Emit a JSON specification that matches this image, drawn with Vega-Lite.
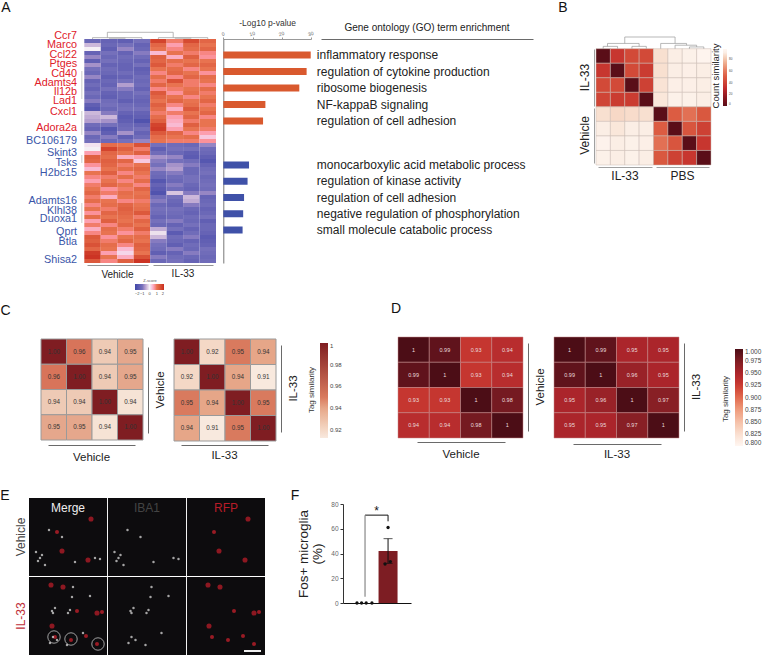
{"$schema":"https://vega.github.io/schema/vega-lite/v6.json","width":763,"height":655,"autosize":{"type":"fit","contains":"padding"},"padding":0,"background":"white","config":{"view":{"stroke":null},"font":"Liberation Sans","text":{"font":"Liberation Sans"},"axis":{"labelFont":"Liberation Sans","titleFont":"Liberation Sans","grid":false},"legend":{"labelFont":"Liberation Sans","titleFont":"Liberation Sans"}},"resolve":{"scale":{"x":"independent","y":"independent","color":"independent","size":"independent"},"axis":{"x":"independent","y":"independent"},"legend":{"color":"independent","size":"independent"}},"layer":[
{"data":{"values":[{"r":0,"s":1,"z":-1.2},{"r":0,"s":2,"z":-1.3},{"r":0,"s":3,"z":-1.4},{"r":0,"s":4,"z":-1.0},{"r":0,"s":5,"z":1.7},{"r":0,"s":6,"z":0.9},{"r":0,"s":7,"z":1.6},{"r":0,"s":8,"z":1.2},{"r":1,"s":1,"z":-0.4},{"r":1,"s":2,"z":-1.2},{"r":1,"s":3,"z":-1.0},{"r":1,"s":4,"z":-1.3},{"r":1,"s":5,"z":1.2},{"r":1,"s":6,"z":0.6},{"r":1,"s":7,"z":1.2},{"r":1,"s":8,"z":1.0},{"r":2,"s":1,"z":0.0},{"r":2,"s":2,"z":-1.4},{"r":2,"s":3,"z":-0.8},{"r":2,"s":4,"z":-1.2},{"r":2,"s":5,"z":1.0},{"r":2,"s":6,"z":0.8},{"r":2,"s":7,"z":1.1},{"r":2,"s":8,"z":1.2},{"r":3,"s":1,"z":-1.3},{"r":3,"s":2,"z":-1.0},{"r":3,"s":3,"z":-1.3},{"r":3,"s":4,"z":-0.9},{"r":3,"s":5,"z":0.4},{"r":3,"s":6,"z":1.0},{"r":3,"s":7,"z":0.9},{"r":3,"s":8,"z":0.8},{"r":4,"s":1,"z":-0.8},{"r":4,"s":2,"z":-1.2},{"r":4,"s":3,"z":-1.1},{"r":4,"s":4,"z":-1.1},{"r":4,"s":5,"z":1.3},{"r":4,"s":6,"z":0.5},{"r":4,"s":7,"z":1.3},{"r":4,"s":8,"z":0.7},{"r":5,"s":1,"z":-1.4},{"r":5,"s":2,"z":-1.0},{"r":5,"s":3,"z":-1.2},{"r":5,"s":4,"z":-1.3},{"r":5,"s":5,"z":1.2},{"r":5,"s":6,"z":1.1},{"r":5,"s":7,"z":1.0},{"r":5,"s":8,"z":1.0},{"r":6,"s":1,"z":-0.7},{"r":6,"s":2,"z":-1.3},{"r":6,"s":3,"z":-1.3},{"r":6,"s":4,"z":-1.0},{"r":6,"s":5,"z":1.4},{"r":6,"s":6,"z":0.9},{"r":6,"s":7,"z":1.2},{"r":6,"s":8,"z":1.2},{"r":7,"s":1,"z":-1.0},{"r":7,"s":2,"z":-1.1},{"r":7,"s":3,"z":-1.3},{"r":7,"s":4,"z":-1.4},{"r":7,"s":5,"z":1.0},{"r":7,"s":6,"z":1.1},{"r":7,"s":7,"z":0.8},{"r":7,"s":8,"z":1.0},{"r":8,"s":1,"z":-1.2},{"r":8,"s":2,"z":-1.2},{"r":8,"s":3,"z":-1.1},{"r":8,"s":4,"z":-1.3},{"r":8,"s":5,"z":0.8},{"r":8,"s":6,"z":1.2},{"r":8,"s":7,"z":1.0},{"r":8,"s":8,"z":0.7},{"r":9,"s":1,"z":-0.8},{"r":9,"s":2,"z":-1.4},{"r":9,"s":3,"z":-1.3},{"r":9,"s":4,"z":-1.1},{"r":9,"s":5,"z":1.1},{"r":9,"s":6,"z":0.8},{"r":9,"s":7,"z":1.2},{"r":9,"s":8,"z":1.1},{"r":10,"s":1,"z":-1.3},{"r":10,"s":2,"z":-1.2},{"r":10,"s":3,"z":-1.0},{"r":10,"s":4,"z":-1.2},{"r":10,"s":5,"z":0.9},{"r":10,"s":6,"z":1.5},{"r":10,"s":7,"z":0.9},{"r":10,"s":8,"z":1.0},{"r":11,"s":1,"z":-1.1},{"r":11,"s":2,"z":-1.3},{"r":11,"s":3,"z":-0.6},{"r":11,"s":4,"z":-1.1},{"r":11,"s":5,"z":1.2},{"r":11,"s":6,"z":1.0},{"r":11,"s":7,"z":0.9},{"r":11,"s":8,"z":0.8},{"r":12,"s":1,"z":-1.3},{"r":12,"s":2,"z":-1.0},{"r":12,"s":3,"z":-0.9},{"r":12,"s":4,"z":-1.3},{"r":12,"s":5,"z":0.8},{"r":12,"s":6,"z":0.9},{"r":12,"s":7,"z":1.0},{"r":12,"s":8,"z":1.1},{"r":13,"s":1,"z":-1.0},{"r":13,"s":2,"z":-1.3},{"r":13,"s":3,"z":-1.2},{"r":13,"s":4,"z":-1.0},{"r":13,"s":5,"z":1.4},{"r":13,"s":6,"z":0.7},{"r":13,"s":7,"z":1.1},{"r":13,"s":8,"z":0.9},{"r":14,"s":1,"z":-1.2},{"r":14,"s":2,"z":-1.4},{"r":14,"s":3,"z":-1.2},{"r":14,"s":4,"z":-1.2},{"r":14,"s":5,"z":1.2},{"r":14,"s":6,"z":1.0},{"r":14,"s":7,"z":0.8},{"r":14,"s":8,"z":1.0},{"r":15,"s":1,"z":-0.9},{"r":15,"s":2,"z":-1.1},{"r":15,"s":3,"z":-1.4},{"r":15,"s":4,"z":-1.3},{"r":15,"s":5,"z":1.0},{"r":15,"s":6,"z":1.2},{"r":15,"s":7,"z":1.0},{"r":15,"s":8,"z":1.2},{"r":16,"s":1,"z":-1.4},{"r":16,"s":2,"z":-1.0},{"r":16,"s":3,"z":-1.1},{"r":16,"s":4,"z":-1.2},{"r":16,"s":5,"z":1.3},{"r":16,"s":6,"z":0.8},{"r":16,"s":7,"z":1.1},{"r":16,"s":8,"z":0.9},{"r":17,"s":1,"z":-1.6},{"r":17,"s":2,"z":-1.2},{"r":17,"s":3,"z":-1.0},{"r":17,"s":4,"z":-1.0},{"r":17,"s":5,"z":1.1},{"r":17,"s":6,"z":0.5},{"r":17,"s":7,"z":1.4},{"r":17,"s":8,"z":1.0},{"r":18,"s":1,"z":-0.4},{"r":18,"s":2,"z":-0.9},{"r":18,"s":3,"z":-1.3},{"r":18,"s":4,"z":-1.3},{"r":18,"s":5,"z":0.9},{"r":18,"s":6,"z":0.9},{"r":18,"s":7,"z":1.0},{"r":18,"s":8,"z":1.2},{"r":19,"s":1,"z":-0.5},{"r":19,"s":2,"z":-0.4},{"r":19,"s":3,"z":-1.5},{"r":19,"s":4,"z":-1.4},{"r":19,"s":5,"z":1.1},{"r":19,"s":6,"z":0.6},{"r":19,"s":7,"z":1.2},{"r":19,"s":8,"z":0.8},{"r":20,"s":1,"z":-0.6},{"r":20,"s":2,"z":-0.7},{"r":20,"s":3,"z":-1.4},{"r":20,"s":4,"z":-1.7},{"r":20,"s":5,"z":1.3},{"r":20,"s":6,"z":0.5},{"r":20,"s":7,"z":0.9},{"r":20,"s":8,"z":1.0},{"r":21,"s":1,"z":-1.1},{"r":21,"s":2,"z":-1.0},{"r":21,"s":3,"z":-1.2},{"r":21,"s":4,"z":-1.3},{"r":21,"s":5,"z":1.7},{"r":21,"s":6,"z":0.4},{"r":21,"s":7,"z":1.3},{"r":21,"s":8,"z":1.0},{"r":22,"s":1,"z":-1.3},{"r":22,"s":2,"z":-1.6},{"r":22,"s":3,"z":-1.1},{"r":22,"s":4,"z":-1.0},{"r":22,"s":5,"z":1.8},{"r":22,"s":6,"z":0.6},{"r":22,"s":7,"z":1.0},{"r":22,"s":8,"z":0.9},{"r":23,"s":1,"z":-0.8},{"r":23,"s":2,"z":-1.4},{"r":23,"s":3,"z":-0.7},{"r":23,"s":4,"z":-1.3},{"r":23,"s":5,"z":1.4},{"r":23,"s":6,"z":1.2},{"r":23,"s":7,"z":0.8},{"r":23,"s":8,"z":0.6},{"r":24,"s":1,"z":-1.2},{"r":24,"s":2,"z":-0.9},{"r":24,"s":3,"z":-1.4},{"r":24,"s":4,"z":-1.1},{"r":24,"s":5,"z":1.1},{"r":24,"s":6,"z":1.0},{"r":24,"s":7,"z":1.1},{"r":24,"s":8,"z":0.3},{"r":25,"s":1,"z":-1.0},{"r":25,"s":2,"z":-1.2},{"r":25,"s":3,"z":-1.0},{"r":25,"s":4,"z":-0.8},{"r":25,"s":5,"z":1.0},{"r":25,"s":6,"z":0.9},{"r":25,"s":7,"z":0.9},{"r":25,"s":8,"z":0.7},{"r":26,"s":1,"z":0.1},{"r":26,"s":2,"z":1.1},{"r":26,"s":3,"z":1.0},{"r":26,"s":4,"z":1.5},{"r":26,"s":5,"z":-1.0},{"r":26,"s":6,"z":-1.1},{"r":26,"s":7,"z":-1.2},{"r":26,"s":8,"z":-0.8},{"r":27,"s":1,"z":0.0},{"r":27,"s":2,"z":1.7},{"r":27,"s":3,"z":1.3},{"r":27,"s":4,"z":0.9},{"r":27,"s":5,"z":-1.4},{"r":27,"s":6,"z":-1.0},{"r":27,"s":7,"z":-1.0},{"r":27,"s":8,"z":-1.1},{"r":28,"s":1,"z":0.6},{"r":28,"s":2,"z":1.2},{"r":28,"s":3,"z":1.0},{"r":28,"s":4,"z":1.3},{"r":28,"s":5,"z":-1.1},{"r":28,"s":6,"z":-1.2},{"r":28,"s":7,"z":-1.4},{"r":28,"s":8,"z":-1.2},{"r":29,"s":1,"z":1.3},{"r":29,"s":2,"z":1.1},{"r":29,"s":3,"z":0.5},{"r":29,"s":4,"z":0.6},{"r":29,"s":5,"z":-0.7},{"r":29,"s":6,"z":-0.8},{"r":29,"s":7,"z":-1.5},{"r":29,"s":8,"z":-1.4},{"r":30,"s":1,"z":1.2},{"r":30,"s":2,"z":1.3},{"r":30,"s":3,"z":1.2},{"r":30,"s":4,"z":0.3},{"r":30,"s":5,"z":-0.9},{"r":30,"s":6,"z":-1.0},{"r":30,"s":7,"z":-1.1},{"r":30,"s":8,"z":-1.6},{"r":31,"s":1,"z":0.7},{"r":31,"s":2,"z":1.2},{"r":31,"s":3,"z":0.9},{"r":31,"s":4,"z":1.0},{"r":31,"s":5,"z":-1.0},{"r":31,"s":6,"z":-0.7},{"r":31,"s":7,"z":-0.9},{"r":31,"s":8,"z":-1.3},{"r":32,"s":1,"z":0.4},{"r":32,"s":2,"z":1.0},{"r":32,"s":3,"z":1.1},{"r":32,"s":4,"z":1.2},{"r":32,"s":5,"z":-0.8},{"r":32,"s":6,"z":-0.6},{"r":32,"s":7,"z":-1.2},{"r":32,"s":8,"z":-1.1},{"r":33,"s":1,"z":1.0},{"r":33,"s":2,"z":1.3},{"r":33,"s":3,"z":0.8},{"r":33,"s":4,"z":1.0},{"r":33,"s":5,"z":-1.1},{"r":33,"s":6,"z":-0.9},{"r":33,"s":7,"z":-1.2},{"r":33,"s":8,"z":-1.0},{"r":34,"s":1,"z":0.8},{"r":34,"s":2,"z":0.9},{"r":34,"s":3,"z":1.1},{"r":34,"s":4,"z":0.9},{"r":34,"s":5,"z":-1.2},{"r":34,"s":6,"z":-1.1},{"r":34,"s":7,"z":-1.0},{"r":34,"s":8,"z":-1.2},{"r":35,"s":1,"z":0.6},{"r":35,"s":2,"z":1.0},{"r":35,"s":3,"z":0.8},{"r":35,"s":4,"z":1.1},{"r":35,"s":5,"z":-1.6},{"r":35,"s":6,"z":-1.2},{"r":35,"s":7,"z":-1.0},{"r":35,"s":8,"z":-1.1},{"r":36,"s":1,"z":0.9},{"r":36,"s":2,"z":1.2},{"r":36,"s":3,"z":1.0},{"r":36,"s":4,"z":0.8},{"r":36,"s":5,"z":-1.3},{"r":36,"s":6,"z":-0.9},{"r":36,"s":7,"z":-1.2},{"r":36,"s":8,"z":-1.0},{"r":37,"s":1,"z":1.0},{"r":37,"s":2,"z":0.7},{"r":37,"s":3,"z":0.9},{"r":37,"s":4,"z":1.2},{"r":37,"s":5,"z":-1.5},{"r":37,"s":6,"z":-1.1},{"r":37,"s":7,"z":-1.3},{"r":37,"s":8,"z":-1.1},{"r":38,"s":1,"z":1.2},{"r":38,"s":2,"z":0.9},{"r":38,"s":3,"z":1.1},{"r":38,"s":4,"z":1.0},{"r":38,"s":5,"z":-1.7},{"r":38,"s":6,"z":-0.3},{"r":38,"s":7,"z":-0.9},{"r":38,"s":8,"z":-0.8},{"r":39,"s":1,"z":0.9},{"r":39,"s":2,"z":0.5},{"r":39,"s":3,"z":1.0},{"r":39,"s":4,"z":1.1},{"r":39,"s":5,"z":-1.1},{"r":39,"s":6,"z":-1.0},{"r":39,"s":7,"z":-0.4},{"r":39,"s":8,"z":-1.3},{"r":40,"s":1,"z":1.1},{"r":40,"s":2,"z":1.0},{"r":40,"s":3,"z":0.8},{"r":40,"s":4,"z":0.9},{"r":40,"s":5,"z":-0.9},{"r":40,"s":6,"z":-1.2},{"r":40,"s":7,"z":-0.5},{"r":40,"s":8,"z":-1.2},{"r":41,"s":1,"z":0.8},{"r":41,"s":2,"z":1.1},{"r":41,"s":3,"z":1.2},{"r":41,"s":4,"z":1.0},{"r":41,"s":5,"z":-1.2},{"r":41,"s":6,"z":-1.3},{"r":41,"s":7,"z":-0.9},{"r":41,"s":8,"z":-1.1},{"r":42,"s":1,"z":1.0},{"r":42,"s":2,"z":0.9},{"r":42,"s":3,"z":1.3},{"r":42,"s":4,"z":1.1},{"r":42,"s":5,"z":-1.0},{"r":42,"s":6,"z":-1.0},{"r":42,"s":7,"z":-1.2},{"r":42,"s":8,"z":-1.3},{"r":43,"s":1,"z":0.7},{"r":43,"s":2,"z":1.2},{"r":43,"s":3,"z":1.2},{"r":43,"s":4,"z":1.4},{"r":43,"s":5,"z":-1.1},{"r":43,"s":6,"z":-1.1},{"r":43,"s":7,"z":-1.3},{"r":43,"s":8,"z":-1.2},{"r":44,"s":1,"z":1.1},{"r":44,"s":2,"z":1.0},{"r":44,"s":3,"z":1.1},{"r":44,"s":4,"z":0.9},{"r":44,"s":5,"z":-1.3},{"r":44,"s":6,"z":-1.2},{"r":44,"s":7,"z":-1.1},{"r":44,"s":8,"z":-1.0},{"r":45,"s":1,"z":0.6},{"r":45,"s":2,"z":1.3},{"r":45,"s":3,"z":1.0},{"r":45,"s":4,"z":1.2},{"r":45,"s":5,"z":-1.0},{"r":45,"s":6,"z":-0.9},{"r":45,"s":7,"z":-1.2},{"r":45,"s":8,"z":-1.4},{"r":46,"s":1,"z":0.9},{"r":46,"s":2,"z":0.8},{"r":46,"s":3,"z":1.2},{"r":46,"s":4,"z":1.0},{"r":46,"s":5,"z":-1.2},{"r":46,"s":6,"z":-1.3},{"r":46,"s":7,"z":-1.0},{"r":46,"s":8,"z":-1.2},{"r":47,"s":1,"z":0.5},{"r":47,"s":2,"z":1.1},{"r":47,"s":3,"z":0.9},{"r":47,"s":4,"z":1.3},{"r":47,"s":5,"z":-0.5},{"r":47,"s":6,"z":-1.0},{"r":47,"s":7,"z":-1.3},{"r":47,"s":8,"z":-1.2},{"r":48,"s":1,"z":0.8},{"r":48,"s":2,"z":1.0},{"r":48,"s":3,"z":0.7},{"r":48,"s":4,"z":0.9},{"r":48,"s":5,"z":-0.1},{"r":48,"s":6,"z":-1.5},{"r":48,"s":7,"z":-1.1},{"r":48,"s":8,"z":-1.3},{"r":49,"s":1,"z":1.4},{"r":49,"s":2,"z":0.7},{"r":49,"s":3,"z":1.0},{"r":49,"s":4,"z":1.1},{"r":49,"s":5,"z":-0.4},{"r":49,"s":6,"z":-1.1},{"r":49,"s":7,"z":-0.9},{"r":49,"s":8,"z":-1.5},{"r":50,"s":1,"z":1.3},{"r":50,"s":2,"z":0.9},{"r":50,"s":3,"z":1.2},{"r":50,"s":4,"z":1.0},{"r":50,"s":5,"z":-0.9},{"r":50,"s":6,"z":-1.2},{"r":50,"s":7,"z":-1.3},{"r":50,"s":8,"z":-1.4},{"r":51,"s":1,"z":1.5},{"r":51,"s":2,"z":1.1},{"r":51,"s":3,"z":0.8},{"r":51,"s":4,"z":1.3},{"r":51,"s":5,"z":-1.0},{"r":51,"s":6,"z":-1.4},{"r":51,"s":7,"z":-1.1},{"r":51,"s":8,"z":-1.3},{"r":52,"s":1,"z":1.2},{"r":52,"s":2,"z":1.0},{"r":52,"s":3,"z":0.4},{"r":52,"s":4,"z":1.2},{"r":52,"s":5,"z":-1.1},{"r":52,"s":6,"z":-0.9},{"r":52,"s":7,"z":-1.2},{"r":52,"s":8,"z":-1.0},{"r":53,"s":1,"z":1.8},{"r":53,"s":2,"z":0.6},{"r":53,"s":3,"z":0.2},{"r":53,"s":4,"z":1.0},{"r":53,"s":5,"z":-1.4},{"r":53,"s":6,"z":-1.3},{"r":53,"s":7,"z":-0.9},{"r":53,"s":8,"z":-1.1},{"r":54,"s":1,"z":1.9},{"r":54,"s":2,"z":1.0},{"r":54,"s":3,"z":0.5},{"r":54,"s":4,"z":1.5},{"r":54,"s":5,"z":-0.9},{"r":54,"s":6,"z":-1.1},{"r":54,"s":7,"z":-1.2},{"r":54,"s":8,"z":-1.2},{"r":55,"s":1,"z":1.4},{"r":55,"s":2,"z":0.8},{"r":55,"s":3,"z":1.3},{"r":55,"s":4,"z":1.9},{"r":55,"s":5,"z":-1.2},{"r":55,"s":6,"z":-1.0},{"r":55,"s":7,"z":-1.3},{"r":55,"s":8,"z":-1.1}]},"mark":{"type":"rect"},"encoding":{"x":{"field":"s","type":"ordinal","scale":{"type":"band","range":[84.3,216],"paddingInner":0,"paddingOuter":0},"axis":null},"y":{"field":"r","type":"ordinal","scale":{"type":"band","range":[39,263],"paddingInner":0,"paddingOuter":0},"axis":null},"color":{"field":"z","type":"quantitative","scale":{"domain":[-2,-1,0,1,2],"range":["#3f47a8","#7570bb","#f5f0f5","#e87350","#c92a20"]},"legend":{"orient":"none","legendX":135,"legendY":279,"direction":"horizontal","title":"Z-score","titleFontSize":4,"titleFontWeight":"normal","titleColor":"#555","titleAnchor":"middle","titlePadding":1,"labelFontSize":4,"labelColor":"#444","gradientLength":29,"gradientThickness":6,"values":[-2,-1,0,1,2]}}}},
{"data":{"values":[{"x":1.4,"x2":5.4,"y":1,"y2":1},{"x":1.4,"x2":1.4,"y":1,"y2":0.2},{"x":5.4,"x2":5.4,"y":1,"y2":0.2},{"x":0.5,"x2":3.5,"y":0.2,"y2":0.2},{"x":4.5,"x2":7.5,"y":0.2,"y2":0.2},{"x":0.5,"x2":0.5,"y":0.2,"y2":0},{"x":3.5,"x2":3.5,"y":0.2,"y2":0},{"x":4.5,"x2":4.5,"y":0.2,"y2":0},{"x":7.5,"x2":7.5,"y":0.2,"y2":0},{"x":1.5,"x2":2.5,"y":0.12,"y2":0.12},{"x":5.5,"x2":6.5,"y":0.12,"y2":0.12}]},"mark":{"type":"rule","color":"#999","strokeWidth":0.7},"encoding":{"x":{"field":"x","type":"quantitative","scale":{"domain":[0,8],"range":[84.3,216],"nice":false,"zero":false},"axis":null},"x2":{"field":"x2"},"y":{"field":"y","type":"quantitative","scale":{"domain":[0,1],"range":[39,32.3],"nice":false},"axis":null},"y2":{"field":"y2"}}},
{"data":{"values":[{"y":8,"y2":15},{"y":18,"y2":24},{"y":29,"y2":31},{"y":41,"y2":46}]},"mark":{"type":"rule","color":"#b5b5b5","strokeWidth":0.7},"encoding":{"x":{"datum":-0.15,"scale":{"domain":[0,8],"range":[84.3,216],"nice":false,"zero":false},"axis":null},"y":{"field":"y","type":"quantitative","scale":{"domain":[0,56],"range":[39,263],"nice":false},"axis":null},"y2":{"field":"y2"}}},
{"data":{"values":[{"gene":"Ccr7","row":-0.75,"dir":"up"},{"gene":"Marco","row":1.43,"dir":"up"},{"gene":"Ccl22","row":4,"dir":"up"},{"gene":"Ptges","row":6.25,"dir":"up"},{"gene":"Cd40","row":8.7,"dir":"up"},{"gene":"Adamts4","row":11,"dir":"up"},{"gene":"Il12b","row":13.25,"dir":"up"},{"gene":"Lad1","row":15.5,"dir":"up"},{"gene":"Cxcl1","row":18.25,"dir":"up"},{"gene":"Adora2a","row":22.25,"dir":"up"},{"gene":"BC106179","row":25.5,"dir":"down"},{"gene":"Skint3","row":28.4,"dir":"down"},{"gene":"Tsks","row":31,"dir":"down"},{"gene":"H2bc15","row":33.4,"dir":"down"},{"gene":"Adamts16","row":40.5,"dir":"down"},{"gene":"Klhl38","row":42.9,"dir":"down"},{"gene":"Duoxa1","row":45,"dir":"down"},{"gene":"Qprt","row":48.25,"dir":"down"},{"gene":"Btla","row":50.75,"dir":"down"},{"gene":"Shisa2","row":55.25,"dir":"down"}]},"mark":{"type":"text","align":"right","baseline":"middle","fontSize":10.8},"encoding":{"text":{"field":"gene"},"x":{"datum":-0.44,"scale":{"domain":[0,8],"range":[84.3,216],"nice":false,"zero":false},"axis":null},"y":{"field":"row","type":"quantitative","scale":{"domain":[0,56],"range":[39,263],"nice":false},"axis":null},"color":{"field":"dir","type":"nominal","scale":{"domain":["up","down"],"range":["#e0202a","#3a55a8"]},"legend":null}}},
{"data":{"values":[{"g":"Vehicle"}]},"mark":{"type":"point","opacity":0},"encoding":{"x":{"field":"g","type":"nominal","scale":{"type":"band","range":[87,148]},"axis":{"orient":"bottom","offset":-390,"title":null,"ticks":false,"domainColor":"#777","domainWidth":0.8,"labelFontSize":10,"labelColor":"#222","labelAngle":0,"labelPadding":4}}}},
{"data":{"values":[{"g":"IL-33"}]},"mark":{"type":"point","opacity":0},"encoding":{"x":{"field":"g","type":"nominal","scale":{"type":"band","range":[153,213]},"axis":{"orient":"bottom","offset":-390,"title":null,"ticks":false,"domainColor":"#777","domainWidth":0.8,"labelFontSize":10,"labelColor":"#222","labelAngle":0,"labelPadding":3}}}},
{"data":{"values":[{"g":"axis"}]},"mark":{"type":"point","opacity":0},"encoding":{"y":{"field":"g","type":"nominal","scale":{"type":"band","range":[39,263]},"axis":{"orient":"left","offset":-223.3,"title":null,"ticks":false,"labels":false,"domainColor":"#555","domainWidth":0.8}}}},
{"data":{"values":[{"term":"inflammatory response","p":29.9},{"term":"regulation of cytokine production","p":28.5},{"term":"ribosome biogenesis","p":26},{"term":"NF-kappaB signaling","p":14.4},{"term":"regulation of cell adhesion","p":13.6}]},"encoding":{"y":{"field":"term","type":"nominal","sort":null,"scale":{"type":"point","range":[55,121],"padding":0},"axis":null}},"layer":[{"mark":{"type":"bar","size":7,"color":"#d9592e","orient":"horizontal"},"encoding":{"x":{"field":"p","type":"quantitative","scale":{"domain":[0,30],"range":[223.3,311],"nice":false},"axis":{"orient":"top","offset":-39,"values":[0,10,20,30],"title":"-Log10 p-value","titleFontSize":8.5,"titleFontWeight":"normal","titleColor":"#333","titlePadding":3,"labelFontSize":5,"labelColor":"#666","labelAngle":-15,"labelAlign":"center","labelPadding":1,"tickSize":2,"tickColor":"#999","domainColor":"#999","domainWidth":1}}}},{"mark":{"type":"text","align":"left","baseline":"middle","fontSize":12,"color":"#222"},"encoding":{"text":{"field":"term"},"x":{"datum":32}}}]},
{"data":{"values":[{"term":"monocarboxylic acid metabolic process","p":8.8},{"term":"regulation of kinase activity","p":8.3},{"term":"regulation of cell adhesion","p":7.1},{"term":"negative regulation of phosphorylation","p":6.8},{"term":"small molecule catabolic process","p":6.6}]},"encoding":{"y":{"field":"term","type":"nominal","sort":null,"scale":{"type":"point","range":[165,230],"padding":0},"axis":null}},"layer":[{"mark":{"type":"bar","size":7,"color":"#3f51a8","orient":"horizontal"},"encoding":{"x":{"field":"p","type":"quantitative","scale":{"domain":[0,30],"range":[223.3,311],"nice":false},"axis":null}}},{"mark":{"type":"text","align":"left","baseline":"middle","fontSize":12,"color":"#222"},"encoding":{"text":{"field":"term"},"x":{"datum":32}}}]},
{"data":{"values":[{"g":"Gene ontology (GO) term enrichment"}]},"mark":{"type":"point","opacity":0},"encoding":{"x":{"field":"g","type":"nominal","scale":{"type":"band","range":[321,533]},"axis":{"orient":"top","offset":-39,"title":null,"ticks":false,"domainColor":"#444","domainWidth":0.8,"labelFontSize":10,"labelColor":"#222","labelAngle":0,"labelPadding":7}}}},
{"data":{"values":[{"r":0,"c":0,"v":0},{"r":0,"c":1,"v":34},{"r":0,"c":2,"v":42},{"r":0,"c":3,"v":42},{"r":0,"c":4,"v":86},{"r":0,"c":5,"v":90},{"r":0,"c":6,"v":92},{"r":0,"c":7,"v":94},{"r":1,"c":0,"v":34},{"r":1,"c":1,"v":0},{"r":1,"c":2,"v":42},{"r":1,"c":3,"v":36},{"r":1,"c":4,"v":86},{"r":1,"c":5,"v":90},{"r":1,"c":6,"v":91},{"r":1,"c":7,"v":90},{"r":2,"c":0,"v":42},{"r":2,"c":1,"v":42},{"r":2,"c":2,"v":0},{"r":2,"c":3,"v":38},{"r":2,"c":4,"v":87},{"r":2,"c":5,"v":91},{"r":2,"c":6,"v":91},{"r":2,"c":7,"v":90},{"r":3,"c":0,"v":40},{"r":3,"c":1,"v":36},{"r":3,"c":2,"v":36},{"r":3,"c":3,"v":0},{"r":3,"c":4,"v":88},{"r":3,"c":5,"v":92},{"r":3,"c":6,"v":92},{"r":3,"c":7,"v":90},{"r":4,"c":0,"v":86},{"r":4,"c":1,"v":84},{"r":4,"c":2,"v":85},{"r":4,"c":3,"v":86},{"r":4,"c":4,"v":0},{"r":4,"c":5,"v":50},{"r":4,"c":6,"v":56},{"r":4,"c":7,"v":48},{"r":5,"c":0,"v":90},{"r":5,"c":1,"v":88},{"r":5,"c":2,"v":90},{"r":5,"c":3,"v":90},{"r":5,"c":4,"v":50},{"r":5,"c":5,"v":0},{"r":5,"c":6,"v":47},{"r":5,"c":7,"v":38},{"r":6,"c":0,"v":93},{"r":6,"c":1,"v":90},{"r":6,"c":2,"v":92},{"r":6,"c":3,"v":91},{"r":6,"c":4,"v":56},{"r":6,"c":5,"v":47},{"r":6,"c":6,"v":0},{"r":6,"c":7,"v":34},{"r":7,"c":0,"v":92},{"r":7,"c":1,"v":90},{"r":7,"c":2,"v":92},{"r":7,"c":3,"v":90},{"r":7,"c":4,"v":48},{"r":7,"c":5,"v":38},{"r":7,"c":6,"v":34},{"r":7,"c":7,"v":0}]},"mark":{"type":"rect","stroke":"#c9b8b0","strokeWidth":0.5},"encoding":{"x":{"field":"c","type":"ordinal","scale":{"type":"band","range":[596,711],"paddingInner":0,"paddingOuter":0},"axis":null},"y":{"field":"r","type":"ordinal","scale":{"type":"band","range":[48.7,165],"paddingInner":0,"paddingOuter":0},"axis":null},"color":{"field":"v","type":"quantitative","scale":{"domain":[0,10,30,50,60,90,96],"range":["#5a0e18","#7c131c","#c22b2b","#dc5c42","#e57c60","#fbeee5","#fff7f2"]},"legend":{"orient":"none","legendX":723,"legendY":49,"title":null,"gradientLength":57,"gradientThickness":4,"values":[0,20,40,60,80],"labelFontSize":3,"labelColor":"#444","labelOffset":2}}}},
{"data":{"values":[{"x":2,"x2":5.5,"y":1,"y2":1},{"x":2,"x2":2,"y":1,"y2":0.45},{"x":5.5,"x2":5.5,"y":1,"y2":0.45},{"x":0.8,"x2":3,"y":0.45,"y2":0.45},{"x":0.8,"x2":0.8,"y":0.45,"y2":0.2},{"x":3,"x2":3,"y":0.45,"y2":0.2},{"x":0.5,"x2":1.5,"y":0.2,"y2":0.2},{"x":2.5,"x2":3.5,"y":0.2,"y2":0.2},{"x":0.5,"x2":0.5,"y":0.2,"y2":0},{"x":1.5,"x2":1.5,"y":0.2,"y2":0},{"x":2.5,"x2":2.5,"y":0.2,"y2":0},{"x":3.5,"x2":3.5,"y":0.2,"y2":0},{"x":4.5,"x2":6.3,"y":0.45,"y2":0.45},{"x":4.5,"x2":4.5,"y":0.45,"y2":0},{"x":6.3,"x2":6.3,"y":0.45,"y2":0.3},{"x":5.5,"x2":7,"y":0.3,"y2":0.3},{"x":5.5,"x2":5.5,"y":0.3,"y2":0},{"x":7,"x2":7,"y":0.3,"y2":0.15},{"x":6.5,"x2":7.5,"y":0.15,"y2":0.15},{"x":6.5,"x2":6.5,"y":0.15,"y2":0},{"x":7.5,"x2":7.5,"y":0.15,"y2":0}]},"mark":{"type":"rule","color":"#999","strokeWidth":0.7},"encoding":{"x":{"field":"x","type":"quantitative","scale":{"domain":[0,8],"range":[596,711],"nice":false,"zero":false},"axis":null},"x2":{"field":"x2"},"y":{"field":"y","type":"quantitative","scale":{"domain":[0,1],"range":[48.7,37],"nice":false},"axis":null},"y2":{"field":"y2"}}},
{"data":{"values":[{"g":"IL-33"}]},"mark":{"type":"point","opacity":0},"encoding":{"x":{"field":"g","type":"nominal","scale":{"type":"band","range":[598,652]},"axis":{"orient":"bottom","offset":-488,"title":null,"ticks":false,"domainColor":"#888","domainWidth":0.8,"labelFontSize":12,"labelColor":"#222","labelAngle":0,"labelPadding":3}},"y":{"field":"g","type":"nominal","scale":{"type":"band","range":[49,106]},"axis":{"orient":"left","offset":-594,"title":null,"ticks":false,"domainColor":"#888","domainWidth":0.8,"labelFontSize":12,"labelColor":"#222","labelAngle":-90,"labelAlign":"center","labelBaseline":"bottom","labelPadding":3}}}},
{"data":{"values":[{"g":"PBS"}]},"mark":{"type":"point","opacity":0},"encoding":{"x":{"field":"g","type":"nominal","scale":{"type":"band","range":[656,709]},"axis":{"orient":"bottom","offset":-488,"title":null,"ticks":false,"domainColor":"#888","domainWidth":0.8,"labelFontSize":12,"labelColor":"#222","labelAngle":0,"labelPadding":3}}}},
{"data":{"values":[{"g":"Vehicle"}]},"mark":{"type":"point","opacity":0},"encoding":{"y":{"field":"g","type":"nominal","scale":{"type":"band","range":[108,163]},"axis":{"orient":"left","offset":-594,"title":null,"ticks":false,"domainColor":"#888","domainWidth":0.8,"labelFontSize":12,"labelColor":"#222","labelAngle":-90,"labelAlign":"center","labelBaseline":"bottom","labelPadding":3}}}},
{"data":{"values":[{"g":"Count similarity"}]},"mark":{"type":"point","opacity":0},"encoding":{"y":{"field":"g","type":"nominal","scale":{"type":"band","range":[44,108]},"axis":{"orient":"left","offset":-721,"title":null,"ticks":false,"domain":false,"labelFontSize":9.5,"labelColor":"#222","labelAngle":-90,"labelAlign":"center","labelBaseline":"bottom","labelPadding":1}}}},
{"data":{"values":[{"r":0,"c":0,"v":1},{"r":0,"c":1,"v":0.96},{"r":0,"c":2,"v":0.94},{"r":0,"c":3,"v":0.95},{"r":1,"c":0,"v":0.96},{"r":1,"c":1,"v":1},{"r":1,"c":2,"v":0.94},{"r":1,"c":3,"v":0.95},{"r":2,"c":0,"v":0.94},{"r":2,"c":1,"v":0.94},{"r":2,"c":2,"v":1},{"r":2,"c":3,"v":0.935},{"r":3,"c":0,"v":0.95},{"r":3,"c":1,"v":0.95},{"r":3,"c":2,"v":0.935},{"r":3,"c":3,"v":1}]},"encoding":{"x":{"field":"c","type":"ordinal","scale":{"type":"band","range":[41,143],"paddingInner":0,"paddingOuter":0},"axis":null},"y":{"field":"r","type":"ordinal","scale":{"type":"band","range":[339,440],"paddingInner":0,"paddingOuter":0},"axis":null}},"layer":[{"mark":{"type":"rect","stroke":"#9a9a9a","strokeWidth":1},"encoding":{"color":{"field":"v","type":"quantitative","scale":{"domain":[0.935,0.94,0.95,0.96,1],"range":["#f6e3d5","#eecab5","#e5a78c","#d8745a","#7f1d22"]},"legend":null}}},{"mark":{"type":"text","fontSize":6.3,"color":"#333"},"encoding":{"text":{"field":"v","type":"quantitative","format":".2f"}}}]},
{"data":{"values":[{"r":0,"c":0,"v":1},{"r":0,"c":1,"v":0.92},{"r":0,"c":2,"v":0.95},{"r":0,"c":3,"v":0.94},{"r":1,"c":0,"v":0.92},{"r":1,"c":1,"v":1},{"r":1,"c":2,"v":0.94},{"r":1,"c":3,"v":0.91},{"r":2,"c":0,"v":0.95},{"r":2,"c":1,"v":0.94},{"r":2,"c":2,"v":1},{"r":2,"c":3,"v":0.95},{"r":3,"c":0,"v":0.94},{"r":3,"c":1,"v":0.91},{"r":3,"c":2,"v":0.95},{"r":3,"c":3,"v":1}]},"encoding":{"x":{"field":"c","type":"ordinal","scale":{"type":"band","range":[174,276],"paddingInner":0,"paddingOuter":0},"axis":null},"y":{"field":"r","type":"ordinal","scale":{"type":"band","range":[339,441],"paddingInner":0,"paddingOuter":0},"axis":null}},"layer":[{"mark":{"type":"rect","stroke":"#9a9a9a","strokeWidth":1},"encoding":{"color":{"field":"v","type":"quantitative","scale":{"domain":[0.9125,0.92,0.94,0.95,1],"range":["#f8e9de","#f4d8c6","#e6a688","#d97a5e","#7f1d22"],"clamp":true},"legend":{"orient":"none","legendX":320,"legendY":343,"title":null,"gradientLength":95,"gradientThickness":8,"values":[0.92,0.94,0.96,0.98,1],"format":".2~f","labelFontSize":6,"labelColor":"#444"}}}},{"mark":{"type":"text","fontSize":6.3,"color":"#333"},"encoding":{"text":{"field":"v","type":"quantitative","format":".2f"}}}]},
{"data":{"values":[{"g":"Vehicle"}]},"mark":{"type":"point","opacity":0},"encoding":{"x":{"field":"g","type":"nominal","scale":{"type":"band","range":[48,135]},"axis":{"orient":"bottom","offset":-210,"title":null,"ticks":false,"domainColor":"#444","domainWidth":0.8,"labelFontSize":11.5,"labelColor":"#222","labelAngle":0,"labelPadding":6}},"y":{"field":"g","type":"nominal","scale":{"type":"band","range":[347,433]},"axis":{"orient":"right","offset":-615,"title":null,"ticks":false,"domainColor":"#444","domainWidth":0.8,"labelFontSize":11.5,"labelColor":"#222","labelAngle":-90,"labelAlign":"center","labelBaseline":"top","labelPadding":6}}}},
{"data":{"values":[{"g":"IL-33"}]},"mark":{"type":"point","opacity":0},"encoding":{"x":{"field":"g","type":"nominal","scale":{"type":"band","range":[181,268]},"axis":{"orient":"bottom","offset":-210,"title":null,"ticks":false,"domainColor":"#444","domainWidth":0.8,"labelFontSize":11.5,"labelColor":"#222","labelAngle":0,"labelPadding":4}},"y":{"field":"g","type":"nominal","scale":{"type":"band","range":[345,432]},"axis":{"orient":"right","offset":-482,"title":null,"ticks":false,"domainColor":"#444","domainWidth":0.8,"labelFontSize":11.5,"labelColor":"#222","labelAngle":-90,"labelAlign":"center","labelBaseline":"top","labelPadding":6}}}},
{"data":{"values":[{"g":"Tag similarity"}]},"mark":{"type":"point","opacity":0},"encoding":{"y":{"field":"g","type":"nominal","scale":{"type":"band","range":[360,420]},"axis":{"orient":"left","offset":-316,"title":null,"ticks":false,"domain":false,"labelFontSize":8,"labelColor":"#333","labelAngle":-90,"labelAlign":"center","labelBaseline":"bottom","labelPadding":1}}}},
{"data":{"values":[{"r":0,"c":0,"v":1},{"r":0,"c":1,"v":0.99},{"r":0,"c":2,"v":0.93},{"r":0,"c":3,"v":0.94},{"r":1,"c":0,"v":0.99},{"r":1,"c":1,"v":1},{"r":1,"c":2,"v":0.93},{"r":1,"c":3,"v":0.94},{"r":2,"c":0,"v":0.93},{"r":2,"c":1,"v":0.93},{"r":2,"c":2,"v":1},{"r":2,"c":3,"v":0.98},{"r":3,"c":0,"v":0.94},{"r":3,"c":1,"v":0.94},{"r":3,"c":2,"v":0.98},{"r":3,"c":3,"v":1}]},"encoding":{"x":{"field":"c","type":"ordinal","scale":{"type":"band","range":[398,523],"paddingInner":0,"paddingOuter":0},"axis":null},"y":{"field":"r","type":"ordinal","scale":{"type":"band","range":[337,438],"paddingInner":0,"paddingOuter":0},"axis":null}},"layer":[{"mark":{"type":"rect","stroke":"#c58a8a","strokeWidth":0.5},"encoding":{"color":{"field":"v","type":"quantitative","scale":{"domain":[0.8,0.825,0.85,0.875,0.9,0.925,0.95,0.975,1],"range":["#fff6f1","#fadfd0","#f5c0a8","#ee9b7d","#e26a4f","#cb3a31","#ab252b","#7f1e23","#4c0d16"]},"legend":null}}},{"mark":{"type":"text","fontSize":5.5,"color":"#eadcdc"},"encoding":{"text":{"field":"v","type":"quantitative","format":".2~f"}}}]},
{"data":{"values":[{"r":0,"c":0,"v":1},{"r":0,"c":1,"v":0.99},{"r":0,"c":2,"v":0.95},{"r":0,"c":3,"v":0.95},{"r":1,"c":0,"v":0.99},{"r":1,"c":1,"v":1},{"r":1,"c":2,"v":0.96},{"r":1,"c":3,"v":0.95},{"r":2,"c":0,"v":0.95},{"r":2,"c":1,"v":0.96},{"r":2,"c":2,"v":1},{"r":2,"c":3,"v":0.97},{"r":3,"c":0,"v":0.95},{"r":3,"c":1,"v":0.95},{"r":3,"c":2,"v":0.97},{"r":3,"c":3,"v":1}]},"encoding":{"x":{"field":"c","type":"ordinal","scale":{"type":"band","range":[554,679],"paddingInner":0,"paddingOuter":0},"axis":null},"y":{"field":"r","type":"ordinal","scale":{"type":"band","range":[337,438],"paddingInner":0,"paddingOuter":0},"axis":null}},"layer":[{"mark":{"type":"rect","stroke":"#c58a8a","strokeWidth":0.5},"encoding":{"color":{"field":"v","type":"quantitative","scale":{"domain":[0.8,0.825,0.85,0.875,0.9,0.925,0.95,0.975,1],"range":["#fff6f1","#fadfd0","#f5c0a8","#ee9b7d","#e26a4f","#cb3a31","#ab252b","#7f1e23","#4c0d16"]},"legend":{"orient":"none","legendX":735,"legendY":349,"title":null,"gradientLength":97,"gradientThickness":8,"values":[0.8,0.825,0.85,0.875,0.9,0.925,0.95,0.975,1],"format":".3f","labelFontSize":6.5,"labelColor":"#444"}}}},{"mark":{"type":"text","fontSize":5.5,"color":"#eadcdc"},"encoding":{"text":{"field":"v","type":"quantitative","format":".2~f"}}}]},
{"data":{"values":[{"g":"Vehicle"}]},"mark":{"type":"point","opacity":0},"encoding":{"x":{"field":"g","type":"nominal","scale":{"type":"band","range":[417,505]},"axis":{"orient":"bottom","offset":-213,"title":null,"ticks":false,"domainColor":"#444","domainWidth":0.8,"labelFontSize":11.5,"labelColor":"#222","labelAngle":0,"labelPadding":6}},"y":{"field":"g","type":"nominal","scale":{"type":"band","range":[343,431]},"axis":{"orient":"right","offset":-235,"title":null,"ticks":false,"domainColor":"#444","domainWidth":0.8,"labelFontSize":11.5,"labelColor":"#222","labelAngle":-90,"labelAlign":"center","labelBaseline":"top","labelPadding":6}}}},
{"data":{"values":[{"g":"IL-33"}]},"mark":{"type":"point","opacity":0},"encoding":{"x":{"field":"g","type":"nominal","scale":{"type":"band","range":[573,661]},"axis":{"orient":"bottom","offset":-211,"title":null,"ticks":false,"domainColor":"#444","domainWidth":0.8,"labelFontSize":11.5,"labelColor":"#222","labelAngle":0,"labelPadding":4}},"y":{"field":"g","type":"nominal","scale":{"type":"band","range":[343,431]},"axis":{"orient":"right","offset":-79,"title":null,"ticks":false,"domainColor":"#444","domainWidth":0.8,"labelFontSize":11.5,"labelColor":"#222","labelAngle":-90,"labelAlign":"center","labelBaseline":"top","labelPadding":6}}}},
{"data":{"values":[{"g":"Tag similarity"}]},"mark":{"type":"point","opacity":0},"encoding":{"y":{"field":"g","type":"nominal","scale":{"type":"band","range":[370,428]},"axis":{"orient":"left","offset":-730,"title":null,"ticks":false,"domain":false,"labelFontSize":8,"labelColor":"#333","labelAngle":-90,"labelAlign":"center","labelBaseline":"bottom","labelPadding":1}}}},
{"data":{"values":[{"channel":"Merge","group":"Vehicle"},{"channel":"IBA1","group":"Vehicle"},{"channel":"RFP","group":"Vehicle"},{"channel":"Merge","group":"IL-33"},{"channel":"IBA1","group":"IL-33"},{"channel":"RFP","group":"IL-33"}]},"mark":{"type":"rect","color":"#0d0c0e"},"encoding":{"x":{"field":"channel","type":"nominal","sort":null,"scale":{"type":"band","range":[29,265],"paddingInner":0.012,"paddingOuter":0},"axis":{"orient":"top","offset":-514,"title":null,"ticks":false,"domain":false,"zindex":1,"labelFontSize":12,"labelAngle":0,"labelPadding":0,"labelColor":{"condition":[{"test":"datum.value==='Merge'","value":"#eeeeee"},{"test":"datum.value==='RFP'","value":"#b81c28"}],"value":"#444444"}}},"y":{"field":"group","type":"nominal","sort":null,"scale":{"type":"band","range":[498,655],"paddingInner":0.012,"paddingOuter":0},"axis":{"orient":"left","offset":-27,"title":null,"ticks":false,"domain":false,"labelFontSize":12,"labelAngle":-90,"labelAlign":"center","labelBaseline":"bottom","labelPadding":0,"labelColor":{"condition":{"test":"datum.value==='IL-33'","value":"#c0303a"},"value":"#444444"}}}}},
{"data":{"values":[{"x":62,"y":21,"kind":"soma"},{"x":33,"y":53,"kind":"soma"},{"x":59,"y":62,"kind":"soma"},{"x":28,"y":34,"kind":"process"},{"x":219,"y":21,"kind":"soma"},{"x":190,"y":53,"kind":"soma"},{"x":216,"y":62,"kind":"soma"},{"x":185,"y":34,"kind":"process"},{"x":20,"y":32,"kind":"iba1"},{"x":11,"y":60,"kind":"iba1"},{"x":7,"y":54,"kind":"iba1"},{"x":16,"y":67,"kind":"iba1"},{"x":13,"y":57,"kind":"iba1"},{"x":9,"y":63,"kind":"iba1"},{"x":71,"y":61,"kind":"iba1"},{"x":66,"y":60,"kind":"iba1"},{"x":46,"y":64,"kind":"iba1"},{"x":33,"y":39,"kind":"iba1"},{"x":98.5,"y":32,"kind":"iba1"},{"x":89.5,"y":60,"kind":"iba1"},{"x":85.5,"y":54,"kind":"iba1"},{"x":94.5,"y":67,"kind":"iba1"},{"x":91.5,"y":57,"kind":"iba1"},{"x":87.5,"y":63,"kind":"iba1"},{"x":149.5,"y":61,"kind":"iba1"},{"x":144.5,"y":60,"kind":"iba1"},{"x":124.5,"y":64,"kind":"iba1"},{"x":111.5,"y":39,"kind":"iba1"},{"x":34,"y":89,"kind":"soma"},{"x":22,"y":87,"kind":"soma"},{"x":23,"y":128,"kind":"soma"},{"x":68,"y":115,"kind":"soma"},{"x":73,"y":114,"kind":"process"},{"x":48,"y":113,"kind":"process"},{"x":42,"y":142,"kind":"process"},{"x":68,"y":146,"kind":"process"},{"x":57,"y":138,"kind":"process"},{"x":26,"y":139,"kind":"process"},{"x":191,"y":89,"kind":"soma"},{"x":179,"y":87,"kind":"soma"},{"x":180,"y":128,"kind":"soma"},{"x":225,"y":115,"kind":"soma"},{"x":230,"y":114,"kind":"process"},{"x":205,"y":113,"kind":"process"},{"x":199,"y":142,"kind":"process"},{"x":225,"y":146,"kind":"process"},{"x":214,"y":138,"kind":"process"},{"x":183,"y":139,"kind":"process"},{"x":23,"y":113,"kind":"iba1"},{"x":26,"y":110,"kind":"iba1"},{"x":24,"y":115,"kind":"iba1"},{"x":39,"y":115,"kind":"iba1"},{"x":41,"y":112,"kind":"iba1"},{"x":61,"y":98,"kind":"iba1"},{"x":44,"y":89,"kind":"iba1"},{"x":43,"y":99,"kind":"iba1"},{"x":24,"y":139,"kind":"iba1"},{"x":21,"y":145,"kind":"iba1"},{"x":28,"y":142,"kind":"iba1"},{"x":54,"y":135,"kind":"iba1"},{"x":38,"y":147,"kind":"iba1"},{"x":101.5,"y":113,"kind":"iba1"},{"x":104.5,"y":110,"kind":"iba1"},{"x":102.5,"y":115,"kind":"iba1"},{"x":117.5,"y":115,"kind":"iba1"},{"x":119.5,"y":112,"kind":"iba1"},{"x":139.5,"y":98,"kind":"iba1"},{"x":122.5,"y":89,"kind":"iba1"},{"x":121.5,"y":99,"kind":"iba1"},{"x":102.5,"y":139,"kind":"iba1"},{"x":99.5,"y":145,"kind":"iba1"},{"x":106.5,"y":142,"kind":"iba1"},{"x":132.5,"y":135,"kind":"iba1"},{"x":116.5,"y":147,"kind":"iba1"}]},"mark":{"type":"point","filled":true,"opacity":0.75},"encoding":{"x":{"field":"x","type":"quantitative","scale":{"domain":[0,236],"range":[29,265],"nice":false,"zero":false},"axis":null},"y":{"field":"y","type":"quantitative","scale":{"domain":[0,157],"range":[498,655],"nice":false,"zero":false},"axis":null},"color":{"field":"kind","type":"nominal","scale":{"domain":["soma","process","iba1"],"range":["#b81c28","#c8202c","#d8d8d8"]},"legend":null},"size":{"field":"kind","type":"ordinal","scale":{"domain":["soma","process","iba1"],"range":[26,6,4]},"legend":null}}},
{"data":{"values":[{"x":25,"y":139},{"x":42,"y":141},{"x":69,"y":146}]},"mark":{"type":"point","filled":false,"color":"#dddddd","strokeWidth":0.7,"size":154,"opacity":1},"encoding":{"x":{"field":"x","type":"quantitative","scale":{"domain":[0,236],"range":[29,265],"nice":false,"zero":false},"axis":null},"y":{"field":"y","type":"quantitative","scale":{"domain":[0,157],"range":[498,655],"nice":false,"zero":false},"axis":null}}},
{"data":{"values":[{"x":215,"x2":232,"y":153}]},"mark":{"type":"rule","color":"#eeeeee","strokeWidth":2},"encoding":{"x":{"field":"x","type":"quantitative","scale":{"domain":[0,236],"range":[29,265],"nice":false,"zero":false},"axis":null},"x2":{"field":"x2"},"y":{"field":"y","type":"quantitative","scale":{"domain":[0,157],"range":[498,655],"nice":false,"zero":false},"axis":null}}},
{"encoding":{"x":{"field":"x","type":"quantitative","scale":{"domain":[0.26,2.78],"range":[343,411],"nice":false,"zero":false},"axis":{"orient":"bottom","offset":-52,"title":null,"ticks":false,"labels":false,"domainColor":"#111","domainWidth":1}},"y":{"field":"y","type":"quantitative","scale":{"domain":[0,80],"range":[603,504],"nice":false},"axis":{"orient":"left","offset":-343,"values":[0,20,40,60,80],"title":["Fos+ microglia","(%)"],"titleFontSize":13.5,"titleFontWeight":"normal","titleColor":"#222","titlePadding":6,"titleLineHeight":14,"labelFontSize":6.5,"labelColor":"#666","tickSize":3,"tickColor":"#333","domainColor":"#333","labelPadding":2}}},"layer":[{"data":{"values":[{"x":2,"y":42}]},"mark":{"type":"bar","size":19,"color":"#7d1d23","orient":"vertical"}},{"data":{"values":[{"x":2,"y":32,"y2":52}]},"mark":{"type":"rule","color":"#111","strokeWidth":1},"encoding":{"y2":{"field":"y2"}}},{"data":{"values":[{"x":2,"y":52},{"x":2,"y":32}]},"mark":{"type":"tick","orient":"horizontal","size":9,"thickness":1,"color":"#111"}},{"data":{"values":[{"x":2,"y":61},{"x":1.87,"y":31.5},{"x":2.1,"y":33.5},{"x":0.65,"y":0},{"x":0.85,"y":0},{"x":1.05,"y":0},{"x":1.3,"y":0}]},"mark":{"type":"point","filled":true,"size":11,"color":"#111","opacity":1}},{"data":{"values":[{"x":1,"x2":2,"y":71,"y2":71}]},"mark":{"type":"rule","color":"#111","strokeWidth":1},"encoding":{"x2":{"field":"x2"}}},{"data":{"values":[{"x":1,"y":5,"y2":71}]},"mark":{"type":"rule","color":"#888","strokeWidth":1.2},"encoding":{"y2":{"field":"y2"}}},{"data":{"values":[{"x":2,"y":66,"y2":71}]},"mark":{"type":"rule","color":"#111","strokeWidth":1},"encoding":{"y2":{"field":"y2"}}},{"data":{"values":[{"x":1.5,"y":74.5,"t":"*"}]},"mark":{"type":"text","fontSize":12,"color":"#111"},"encoding":{"text":{"field":"t"}}}]},
{"data":{"values":[{"p":"A"}]},"mark":{"type":"text","fontSize":14,"color":"#111"},"encoding":{"text":{"field":"p"},"x":{"field":"p","type":"nominal","scale":{"type":"point","range":[6,6]},"axis":null},"y":{"field":"p","type":"nominal","scale":{"type":"point","range":[8,8]},"axis":null}}},
{"data":{"values":[{"p":"B"}]},"mark":{"type":"text","fontSize":14,"color":"#111"},"encoding":{"text":{"field":"p"},"x":{"field":"p","type":"nominal","scale":{"type":"point","range":[563,563]},"axis":null},"y":{"field":"p","type":"nominal","scale":{"type":"point","range":[8,8]},"axis":null}}},
{"data":{"values":[{"p":"C"}]},"mark":{"type":"text","fontSize":14,"color":"#111"},"encoding":{"text":{"field":"p"},"x":{"field":"p","type":"nominal","scale":{"type":"point","range":[5.5,5.5]},"axis":null},"y":{"field":"p","type":"nominal","scale":{"type":"point","range":[311,311]},"axis":null}}},
{"data":{"values":[{"p":"D"}]},"mark":{"type":"text","fontSize":14,"color":"#111"},"encoding":{"text":{"field":"p"},"x":{"field":"p","type":"nominal","scale":{"type":"point","range":[396,396]},"axis":null},"y":{"field":"p","type":"nominal","scale":{"type":"point","range":[309,309]},"axis":null}}},
{"data":{"values":[{"p":"E"}]},"mark":{"type":"text","fontSize":14,"color":"#111"},"encoding":{"text":{"field":"p"},"x":{"field":"p","type":"nominal","scale":{"type":"point","range":[5,5]},"axis":null},"y":{"field":"p","type":"nominal","scale":{"type":"point","range":[496,496]},"axis":null}}},
{"data":{"values":[{"p":"F"}]},"mark":{"type":"text","fontSize":14,"color":"#111"},"encoding":{"text":{"field":"p"},"x":{"field":"p","type":"nominal","scale":{"type":"point","range":[295,295]},"axis":null},"y":{"field":"p","type":"nominal","scale":{"type":"point","range":[496,496]},"axis":null}}}
]}
